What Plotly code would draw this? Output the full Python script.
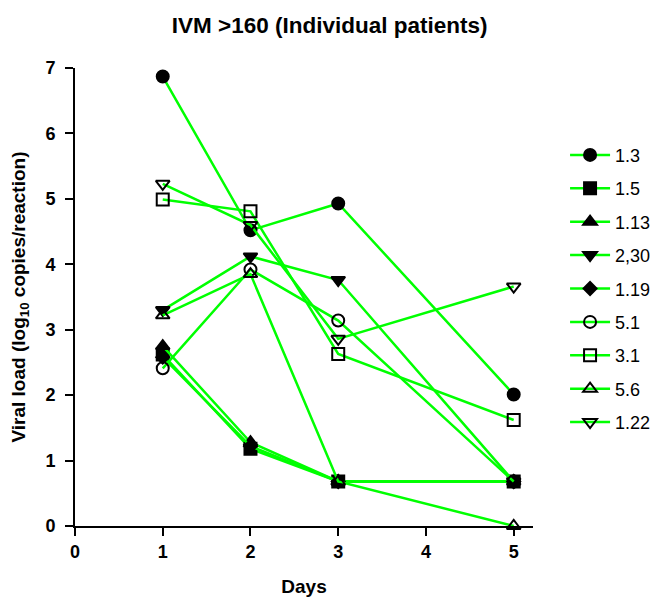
import plotly.graph_objects as go

days = [1, 2, 3, 5]
names = ["1.3", "1.5", "1.13", "2,30", "1.19", "5.1", "3.1", "5.6", "1.22"]
s_1_3 = [6.87, 4.52, 4.93, 2.01]
s_1_5 = [2.62, 1.18, 0.68, 0.68]
s_1_13 = [2.75, 1.28, 0.68, 0.68]
s_2_30 = [3.30, 4.12, 3.76, 0.68]
s_1_19 = [2.58, 1.22, 0.68, 0.68]
s_5_1 = [2.41, 3.92, 3.14, 0.68]
s_3_1 = [4.99, 4.81, 2.63, 1.62]
s_5_6 = [3.22, 3.85, 0.68, 0.0]
s_1_22 = [5.23, 4.60, 2.86, 3.66]
series = [s_1_3, s_1_5, s_1_13, s_2_30, s_1_19, s_5_1, s_3_1, s_5_6, s_1_22]
symbols = ["circle", "square", "triangle-up", "triangle-down", "diamond",
           "circle-open", "square-open", "triangle-up-open", "triangle-down-open"]
sizes = [12, 12, 12, 12, 10, 12, 12, 12, 12]

fig = go.Figure()
for i, (nm, ys, sym, sz) in enumerate(zip(names, series, symbols, sizes)):
    fig.add_trace(go.Scatter(
        x=days, y=ys, name=nm, mode="lines+markers", legendgroup=f"g{i}",
        line=dict(color="#00FF00", width=2.5),
        marker=dict(symbol=sym, size=sz, color="black",
                    line=dict(color="black", width=2)),
        cliponaxis=False,
    ))

axis_font = dict(family="Liberation Sans, Arial", size=18, color="black")
fig.update_layout(
    width=666, height=599,
    margin=dict(l=67, r=141, t=60, b=81),
    paper_bgcolor="white", plot_bgcolor="white",
    title=dict(text="<b>IVM >160 (Individual patients)</b>",
               x=0.483, xanchor="center", y=0.972, yanchor="middle",
               font=dict(family="Liberation Sans, Arial", size=22.5, color="black")),
    xaxis=dict(range=[0, 5.22], tickmode="array", tickvals=[0, 1, 2, 3, 4, 5],
               ticktext=["<b>0</b>", "<b>1</b>", "<b>2</b>", "<b>3</b>", "<b>4</b>", "<b>5</b>"],
               showline=True, linecolor="black", linewidth=2, ticks="outside",
               ticklen=8, tickwidth=2, tickcolor="black", showgrid=False, zeroline=False,
               tickfont=axis_font, automargin=False,
               title=dict(text="<b>Days</b>", font=dict(family="Liberation Sans, Arial", size=19, color="black"), standoff=19)),
    yaxis=dict(range=[0, 7], tickmode="array", tickvals=list(range(8)),
               ticktext=[f"<b>{v}</b>" for v in range(8)],
               showline=True, linecolor="black", linewidth=2, ticks="outside",
               ticklen=8, tickwidth=2, tickcolor="black", showgrid=False, zeroline=False,
               tickfont=axis_font, automargin=False, ticklabelstandoff=6,
               title=dict(text="<b>Viral load (log<sub>10</sub> copies/reaction)</b>",
                          font=dict(family="Liberation Sans, Arial", size=19, color="black"), standoff=18)),
    legend=dict(x=1.07, xanchor="left", y=0.85, yanchor="top",
                font=dict(family="Liberation Sans, Arial", size=18, color="black"),
                tracegroupgap=7, traceorder="grouped", bgcolor="rgba(0,0,0,0)",
                itemwidth=40),
)
fig.write_html("out.html")
